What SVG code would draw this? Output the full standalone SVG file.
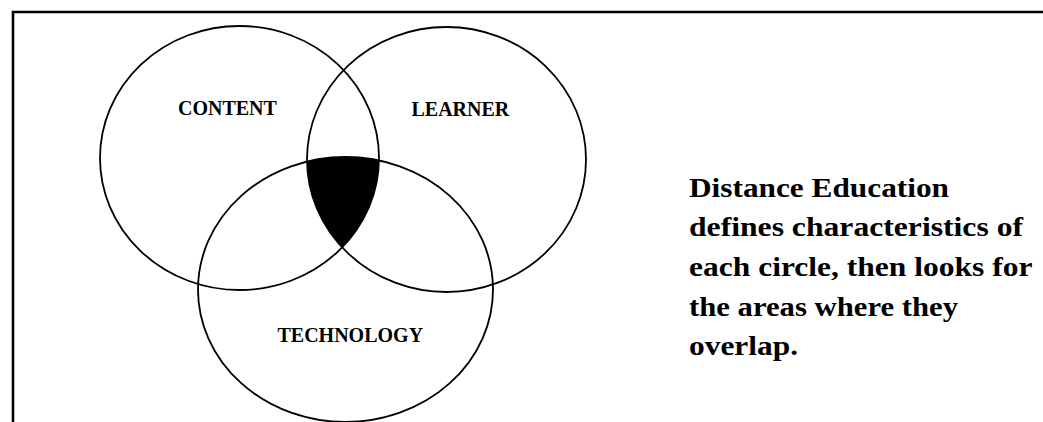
<svg xmlns="http://www.w3.org/2000/svg" width="1043" height="422" viewBox="0 0 1043 422">
  <style>
    .ring { fill: none; stroke: #000; stroke-width: 1.8; }
    .label { font-family: "Liberation Serif", "Times New Roman", serif; font-weight: bold; font-size: 20px; fill: #000; }
    .note { font-family: "Liberation Serif", "Times New Roman", serif; font-weight: bold; font-size: 28px; fill: #000; }
  </style>
  <defs>
    <clipPath id="clip-content">
      <ellipse cx="239.5" cy="158" rx="139.5" ry="132"/>
    </clipPath>
    <clipPath id="clip-learner">
      <ellipse cx="446.5" cy="159.5" rx="139.5" ry="132.5"/>
    </clipPath>
  </defs>

  <rect x="0" y="0" width="1043" height="422" fill="#fff"/>

  <!-- frame: top and left rules -->
  <path d="M13,422 V12 H1043" fill="none" stroke="#000" stroke-width="2.6"/>

  <!-- shared region of all three sets -->
  <g id="overlap" clip-path="url(#clip-content)">
    <g clip-path="url(#clip-learner)">
      <ellipse cx="345.5" cy="289.5" rx="147.5" ry="132.5" fill="#000"/>
    </g>
  </g>

  <g id="content">
    <ellipse class="ring" cx="239.5" cy="158" rx="139.5" ry="132"/>
    <text class="label" x="178" y="115">CONTENT</text>
  </g>

  <g id="learner">
    <ellipse class="ring" cx="446.5" cy="159.5" rx="139.5" ry="132.5"/>
    <text class="label" x="411.5" y="115.5">LEARNER</text>
  </g>

  <g id="technology">
    <ellipse class="ring" cx="345.5" cy="289.5" rx="147.5" ry="132.5"/>
    <text class="label" x="277.5" y="342">TECHNOLOGY</text>
  </g>

  <g id="connectors"></g>

  <g id="caption">
    <text class="note" x="689" y="196.5" textLength="260" lengthAdjust="spacingAndGlyphs">Distance Education</text>
    <text class="note" x="689" y="236.3" textLength="334" lengthAdjust="spacingAndGlyphs">defines characteristics of</text>
    <text class="note" x="689" y="276" textLength="343.5" lengthAdjust="spacingAndGlyphs">each circle, then looks for</text>
    <text class="note" x="689" y="315.5" textLength="269" lengthAdjust="spacingAndGlyphs">the areas where they</text>
    <text class="note" x="689" y="354.5" textLength="109" lengthAdjust="spacingAndGlyphs">overlap.</text>
  </g>
</svg>
